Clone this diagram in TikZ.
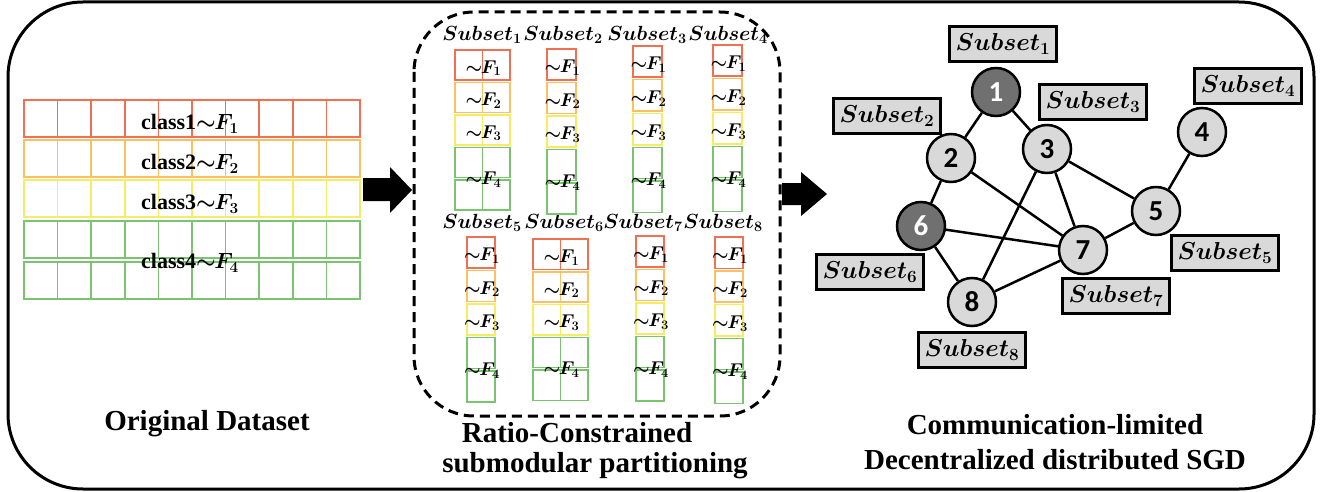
\documentclass[tikz,border=0pt]{standalone}
\usepackage{fix-cm}
\usepackage{fontspec}
\usepackage{amsmath}
\setmainfont{Liberation Serif}
\newfontfamily\numfont{Carlito}
\definecolor{cred}{RGB}{242,112,82}
\definecolor{corange}{RGB}{250,192,98}
\definecolor{cyellow}{RGB}{245,235,100}
\definecolor{cgreen}{RGB}{122,196,112}
\definecolor{nodegray}{RGB}{217,217,217}
\definecolor{nodedark}{RGB}{112,112,112}
\newcommand\fl[1]{$\mathord{\sim}\mkern-1mu F_{#1}$}
\newcommand\subs[1]{$Subset_{#1}$}
\tikzset{
  cell/.style={line width=1.5pt},
  flbl/.style={font=\fontsize{18.5}{20}\selectfont\bfseries\boldmath, inner sep=0pt},
  clbl/.style={font=\fontsize{22}{24}\selectfont\bfseries\boldmath, inner sep=0pt},
  slbl/.style={font=\fontsize{20.5}{22}\selectfont\bfseries\boldmath, inner sep=0pt},
  title/.style={font=\fontsize{29}{32}\selectfont\bfseries, inner sep=0pt, anchor=base},
  gnode/.style={circle, draw, line width=2.5pt, fill=nodegray, minimum size=48pt, inner sep=0pt, font=\numfont\fontsize{29}{30}\selectfont\bfseries},
  gdark/.style={gnode, fill=nodedark, text=white},
  lbox/.style={draw, line width=2.5pt, fill=nodegray, minimum width=107pt, minimum height=35pt, inner sep=0pt, font=\fontsize{24.5}{26}\selectfont\bfseries\boldmath},
  edge/.style={line width=2.5pt},
  blockarrow/.style={fill=black}
}
\newcommand\subcol[6]{%
  \foreach \j/\c in {0/cred,1/corange,2/cyellow,3/cgreen,4/cgreen}{
    \draw[cell,\c] (#2,{#4+\j*#5}) rectangle (#3,{#4+\j*#5+#5-2.5});
    \ifnum#6=1
      \draw[cell,\c] ({(#2+#3)/2},{#4+\j*#5}) -- ({(#2+#3)/2},{#4+\j*#5+#5-2.5});
    \fi
  }
  \node[flbl] (s#1f1) at ({(#2+#3)/2+1},{#4+0.5*#5+2}) {\fl1};
  \node[flbl] (s#1f2) at ({(#2+#3)/2+1},{#4+1.5*#5+2}) {\fl2};
  \node[flbl] (s#1f3) at ({(#2+#3)/2+1},{#4+2.5*#5+2}) {\fl3};
  \node[flbl] (s#1f4) at ({(#2+#3)/2+1},{#4+4*#5}) {\fl4};
}
\begin{document}
\begin{tikzpicture}[x=1pt,y=-1pt]
\useasboundingbox (0,0) rectangle (1327,492);
% outer frame
\draw[line width=3pt, rounded corners=75pt] (8,2) rectangle (1314,489);

% original dataset grid
\foreach \ya/\yb/\c in {100/137/cred,140/177/corange,180/217/cyellow,221/258/cgreen,262/299/cgreen}{
  \foreach \i in {0,...,9}{
    \draw[cell,\c] ({24+\i*33.6},\ya) rectangle ({24+(\i+1)*33.6},\yb);
  }
}
\node[clbl] (c1) at (190,124) {class1\fl1};
\node[clbl] (c2) at (190,164) {class2\fl2};
\node[clbl] (c3) at (190,204) {class3\fl3};
\node[clbl] (c4) at (190,263) {class4\fl4};
\node[title] (t1) at (207,430) {Original Dataset};

% arrows
\fill[blockarrow] (363,178) -- (390,178) -- (390,167) -- (412,190) -- (390,213) -- (390,201) -- (363,201) -- cycle;
\fill[blockarrow] (782,183) -- (801,183) -- (801,172) -- (827,194) -- (801,216) -- (801,205) -- (782,205) -- cycle;

% dashed box
\draw[line width=3pt, dash pattern=on 10pt off 6pt, rounded corners=60pt] (414,12) rectangle (780,416);

\node[slbl] (h1) at (482,35) {\subs1};
\node[slbl] (h2) at (563,35) {\subs2};
\node[slbl] (h3) at (647,35) {\subs3};
\node[slbl] (h4) at (728,35) {\subs4};
\node[slbl] (h5) at (482,223) {\subs5};
\node[slbl] (h6) at (564,223) {\subs6};
\node[slbl] (h7) at (643,223) {\subs7};
\node[slbl] (h8) at (723,223) {\subs8};

\subcol{1}{455}{510}{50}{32.5}{1}
\subcol{2}{547}{576}{49}{33.5}{0}
\subcol{3}{633}{662}{46}{33.75}{0}
\subcol{4}{713}{742}{45}{33.75}{0}
\subcol{5}{467}{495}{237}{33.5}{0}
\subcol{6}{533}{588}{239}{32.75}{1}
\subcol{7}{636}{664}{236}{33.5}{0}
\subcol{8}{715}{743}{237}{33.75}{0}

\node[title] (t2) at (577,442) {Ratio-Constrained};
\node[title] (t3) at (595,472) {submodular partitioning};

% graph
\node[gdark] (n1) at (996,92) {1};
\node[gnode] (n2) at (951,158) {2};
\node[gnode] (n3) at (1047,149) {3};
\node[gnode] (n4) at (1202,132) {4};
\node[gnode] (n5) at (1156,211) {5};
\node[gdark] (n6) at (921,226) {6};
\node[gnode] (n7) at (1083,250) {7};
\node[gnode] (n8) at (972,302) {8};
\draw[edge] (n1) -- (n2);
\draw[edge] (n1) -- (n3);
\draw[edge] (n2) -- (n6);
\draw[edge] (n2) -- (n7);
\draw[edge] (n3) -- (n5);
\draw[edge] (n3) -- (n7);
\draw[edge] (n3) -- (n8);
\draw[edge] (n4) -- (n5);
\draw[edge] (n5) -- (n7);
\draw[edge] (n6) -- (n7);
\draw[edge] (n6) -- (n8);
\draw[edge] (n8) -- (n7);

\node[lbox] (l1) at (1003,44) {\subs1};
\node[lbox] (l2) at (887,116) {\subs2};
\node[lbox] (l3) at (1093,102) {\subs3};
\node[lbox] (l4) at (1248,86) {\subs4};
\node[lbox] (l5) at (1225,253) {\subs5};
\node[lbox] (l6) at (870,272) {\subs6};
\node[lbox] (l7) at (1116,296) {\subs7};
\node[lbox] (l8) at (972,350) {\subs8};

\node[title] (t4) at (1055,434) {Communication-limited};
\node[title] (t5) at (1055,469) {Decentralized distributed SGD};
\end{tikzpicture}
\end{document}
